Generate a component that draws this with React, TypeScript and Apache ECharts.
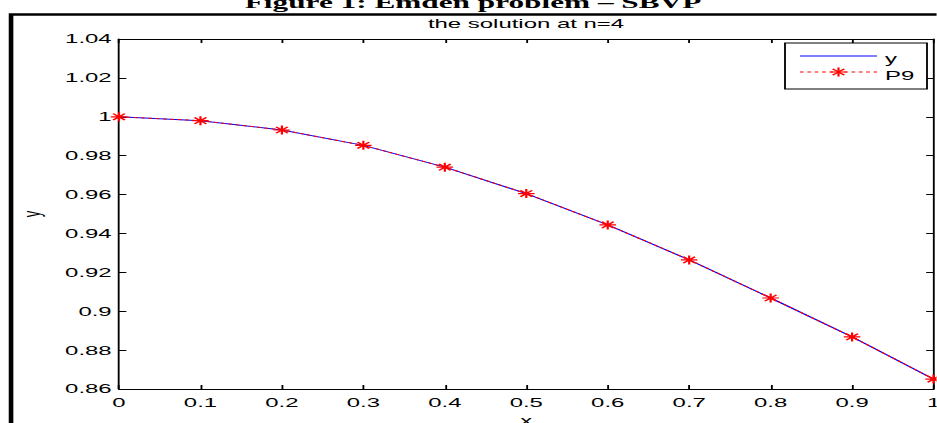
import React, { useEffect, useRef } from "react";
import * as echarts from "echarts";

// horizontal stretch of the reference image
const S = 1.84;
const W0 = 937 / S;
const H0 = 423;

const xValues = [0, 0.1, 0.2, 0.3, 0.4, 0.5, 0.6, 0.7, 0.8, 0.9, 1.0];
const yValues = [1.0, 0.998, 0.9932, 0.9853, 0.9741, 0.9605, 0.9444, 0.9264, 0.9068, 0.8868, 0.8651];
const p9Values = [1.0, 0.998, 0.9932, 0.9853, 0.9741, 0.9605, 0.9444, 0.9264, 0.9068, 0.8868, 0.8651];

const titleText = "Figure 1: Emden problem \u2013 SBVP";
const subtitleText = "the solution at n=4";
const seriesNames = ["y", "P9"];

const SANS = "'Liberation Sans', Arial, Helvetica, sans-serif";
const SERIF = "'Liberation Serif', 'Times New Roman', serif";
const STAR = "path://M5,0L5,10M0,5L10,5M1.46,1.46L8.54,8.54M1.46,8.54L8.54,1.46";

function starLines(cx: number, cy: number, r: number) {
  const d = r * 0.707;
  const segs = [
    [cx, cy - r, cx, cy + r],
    [cx - r, cy, cx + r, cy],
    [cx - d, cy - d, cx + d, cy + d],
    [cx - d, cy + d, cx + d, cy - d],
  ];
  return segs.map((s) => ({
    type: "line",
    shape: { x1: s[0], y1: s[1], x2: s[2], y2: s[3] },
    style: { stroke: "#ff0000", lineWidth: 1.2 },
    z: 12,
  }));
}

export default function App() {
  const ref = useRef<HTMLDivElement>(null);
  useEffect(() => {
    if (!ref.current) return;
    const chart = echarts.init(ref.current, undefined, { renderer: "svg" });
    const plotLeft = 119 / S;
    const plotRight = 934 / S;
    const axisCommon = {
      type: "value" as const,
      axisLine: { show: true, onZero: false, lineStyle: { color: "#000", width: 1 } },
      axisTick: { show: true, inside: true, length: 4, lineStyle: { color: "#000", width: 1 } },
      splitLine: { show: false },
    };
    const xFmt = (v: number) => String(Math.round(v * 10) / 10);
    const yFmt = (v: number) => String(Math.round(v * 100) / 100);

    // legend (drawn manually to match MATLAB's legend box)
    const lgLeft = 785 / S;
    const lgRight = 927 / S;
    const lineX1 = 800 / S;
    const lineX2 = 877 / S;
    const textX = 885 / S;
    const row1 = 56;
    const row2 = 72;
    const legendGraphics: any[] = [
      {
        type: "rect",
        shape: { x: lgLeft, y: 43, width: lgRight - lgLeft, height: 46 },
        style: { fill: "#fff", stroke: "#000", lineWidth: 1 },
        z: 10,
      },
      {
        type: "line",
        shape: { x1: lineX1, y1: row1, x2: lineX2, y2: row1 },
        style: { stroke: "#0000ff", lineWidth: 1 },
        z: 11,
      },
      {
        type: "line",
        shape: { x1: lineX1, y1: row2, x2: lineX2, y2: row2 },
        style: { stroke: "#ff0000", lineWidth: 1, lineDash: [2, 2] },
        z: 11,
      },
      ...starLines((lineX1 + lineX2) / 2, row2, 4.5),
      {
        type: "text",
        x: textX,
        y: row1 + 3,
        style: { text: seriesNames[0], fontSize: 13, fontFamily: SANS, fill: "#000", align: "left", verticalAlign: "middle" },
        z: 12,
      },
      {
        type: "text",
        x: textX,
        y: row2 + 4,
        style: { text: seriesNames[1], fontSize: 13, fontFamily: SANS, fill: "#000", align: "left", verticalAlign: "middle" },
        z: 12,
      },
    ];

    chart.setOption({
      animation: false,
      backgroundColor: "#fff",
      grid: {
        left: plotLeft,
        right: W0 - plotRight,
        top: 39,
        bottom: H0 - 389,
        containLabel: false,
        outerBoundsMode: "none",
      },
      graphic: [
        {
          type: "rect",
          shape: { x: 6, y: 14.5, width: 800, height: 600 },
          style: { fill: "none", stroke: "#000", lineWidth: 2.5 },
          silent: true,
          z: 0,
        },
        {
          type: "text",
          x: 473 / S,
          y: 2.5,
          style: {
            text: titleText,
            fontSize: 17,
            fontWeight: "bold",
            fontFamily: SERIF,
            fill: "#000",
            align: "center",
            verticalAlign: "middle",
          },
        },
        {
          type: "text",
          x: 526 / S,
          y: 23.5,
          style: {
            text: subtitleText,
            fontSize: 13,
            fontFamily: SANS,
            fill: "#000",
            align: "center",
            verticalAlign: "middle",
          },
        },
        ...legendGraphics,
      ],
      xAxis: [
        {
          ...axisCommon,
          position: "bottom",
          min: 0,
          max: 1,
          interval: 0.1,
          axisLabel: { color: "#000", fontSize: 13, fontFamily: SANS, margin: 7, formatter: xFmt, showMaxLabel: true, showMinLabel: true },
          name: "x",
          nameLocation: "middle",
          nameGap: 24,
          nameTextStyle: { color: "#000", fontSize: 13, fontFamily: SANS },
        },
        {
          ...axisCommon,
          position: "top",
          min: 0,
          max: 1,
          interval: 0.1,
          axisLabel: { show: false },
        },
      ],
      yAxis: [
        {
          ...axisCommon,
          position: "left",
          min: 0.86,
          max: 1.04,
          interval: 0.02,
          axisLabel: { color: "#000", fontSize: 13, fontFamily: SANS, margin: 4, formatter: yFmt, showMaxLabel: true, showMinLabel: true },
          name: "y",
          nameLocation: "middle",
          nameGap: 41,
          nameRotate: 90,
          nameTextStyle: { color: "#000", fontSize: 13, fontFamily: SANS },
        },
        {
          ...axisCommon,
          position: "right",
          min: 0.86,
          max: 1.04,
          interval: 0.02,
          axisLabel: { show: false },
        },
      ],
      series: [
        {
          name: seriesNames[0],
          type: "line",
          data: xValues.map((x, i) => [x, yValues[i]]),
          symbol: "none",
          lineStyle: { color: "#0000ff", width: 1 },
          itemStyle: { color: "#0000ff" },
          z: 2,
        },
        {
          name: seriesNames[1],
          type: "line",
          data: xValues.map((x, i) => [x, p9Values[i]]),
          symbol: STAR,
          symbolSize: 9,
          showSymbol: true,
          showAllSymbol: true,
          lineStyle: { color: "#ff0000", width: 1, type: [2, 2] },
          itemStyle: { color: "#ff0000", borderColor: "#ff0000", borderWidth: 1.2 },
          z: 3,
        },
      ],
    });
    return () => chart.dispose();
  }, []);
  return (
    <div
      ref={ref}
      style={{
        position: "fixed",
        left: 0,
        top: 0,
        width: W0,
        height: H0,
        transform: `scaleX(${S})`,
        transformOrigin: "0 0",
        background: "#fff",
      }}
    />
  );
}
